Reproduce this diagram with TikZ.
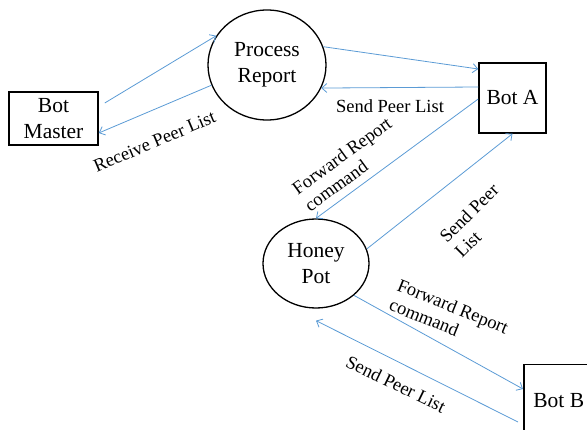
\documentclass[tikz,border=0pt]{standalone}
\usepackage{fontspec}
\setmainfont{Liberation Serif}
\usetikzlibrary{shapes.geometric,arrows.meta,calc}
\definecolor{flowblue}{RGB}{91,155,213}

\begin{document}
\begin{tikzpicture}[x=1pt,y=-1pt,
  flow/.style={draw=flowblue, line width=0.8pt, -{Straight Barb[length=5pt,width=9pt]}},
  entity/.style={draw, line width=1.5pt, font=\fontsize{21.5}{26}\selectfont, align=center, inner sep=0pt},
  proc/.style={ellipse, draw, line width=1.3pt, font=\fontsize{21.5}{26}\selectfont, align=center, inner sep=0pt},
  lbl/.style={font=\fontsize{18.5}{21}\selectfont, align=left, inner sep=0pt}]
\useasboundingbox (0,0) rectangle (587,430);
\clip (0,0) rectangle (587,430);

% entities and processes
\node[entity, minimum width=89pt, minimum height=53pt] (bm) at (53.5,118.5) {Bot\\Master};
\node[proc, minimum width=118pt, minimum height=110pt] (pr) at (267,65) {Process\\Report};
\node[entity, minimum width=67pt, minimum height=70pt] (ba) at (512.5,98) {Bot A};
\node[proc, minimum width=106pt, minimum height=89pt] (hp) at (316,263.5) {Honey\\Pot};
\node[entity, minimum width=70pt, minimum height=72pt, anchor=north west] (bb) at (523,364) {Bot B};

% data flows
\draw[flow] ([shift={(6pt,15.5pt)}]bm.east) -- (pr.150);
\draw[flow] (pr.200) -- ([yshift=-14.5pt]bm.east);
\draw[flow] (pr.18) -- ([yshift=29pt]ba.west);
\draw[flow] ([yshift=11pt]ba.west) -- (pr.-23);
\draw[flow] ([yshift=-1pt]ba.west) -- (hp.north);
\draw[flow] (hp.16) -- (ba.south);
\draw[flow] (hp.-40) -- ([yshift=-25pt]bb.north west);
\draw[flow] ([shift={(-5pt,-58pt)}]bb.north west) -- ([yshift=-12pt]hp.south);

% flow labels
\node[lbl, rotate=23] (l1) at (154.5,141.5) {Receive Peer List};
\node[lbl] (l2) at (390,106.5) {Send Peer List};
\node[lbl, rotate=36] (l3) at (348,164) {Forward Report\\command};
\node[lbl, rotate=45] (l4) at (476.5,220.5) {Send Peer\\List};
\node[lbl, rotate=-22] (l5) at (449,316) {Forward Report\\command};
\node[lbl, rotate=-26] (l6) at (396,384) {Send Peer List};
\end{tikzpicture}
\end{document}
